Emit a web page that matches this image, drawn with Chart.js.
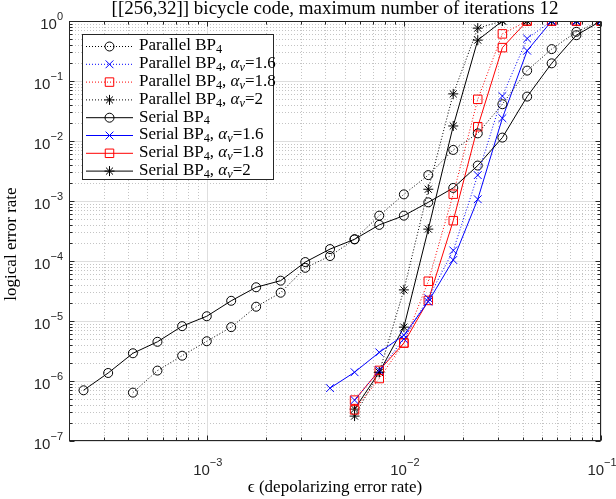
<!DOCTYPE html>
<html lang="en">
<head>
<meta charset="UTF-8" />
<title>[[256,32]] bicycle code</title>
<script src="https://cdn.jsdelivr.net/npm/chart.js@4"></script>
<style>
  body { margin: 0; background: #fff; }
  #wrap { width: 616px; height: 499px; position: relative; }
</style>
</head>
<body>
<div id="wrap"><canvas id="chart"></canvas></div>
<script>
// x values: depolarizing error rate
const eps = [2.37e-4, 3.16e-4, 4.22e-4, 5.62e-4, 7.50e-4, 1.00e-3, 1.33e-3, 1.78e-3, 2.37e-3, 3.16e-3, 4.22e-3,
             5.62e-3, 7.50e-3, 1.00e-2, 1.33e-2, 1.78e-2, 2.37e-2, 3.16e-2, 4.22e-2, 5.62e-2, 7.50e-2, 1.00e-1];

// logical error rates (null = not simulated)
const parallelBP4 = [null, null, 6.4e-7, 1.49e-6, 2.64e-6, 4.6e-6, 7.9e-6, 1.73e-5, 2.96e-5, 7.7e-5, 1.21e-4,
                     2.3e-4, 5.7e-4, 1.29e-3, 2.7e-3, 7.1e-3, 1.34e-2, 4.1e-2, 0.149, 0.34, 0.66, 1];
const parallelA16 = [null, null, null, null, null, null, null, null, null, null, null,
                     4.8e-7, 1.5e-6, 5.0e-6, 2.4e-5, 1.5e-4, 2.7e-3, 5.6e-2, 0.51, 1, 1, 1];
const parallelA18 = [null, null, null, null, null, null, null, null, null, null, null,
                     3.3e-7, 1.1e-6, 4.3e-6, 4.6e-5, 1.3e-3, 4.95e-2, 0.61, 1, 1, 1, 1];
const parallelA2  = [null, null, null, null, null, null, null, null, null, null, null,
                     2.6e-7, 1.4e-6, 3.3e-5, 1.57e-3, 6.1e-2, 0.76, 1, 1, 1, 1, 1];
const serialBP4   = [7.0e-7, 1.36e-6, 2.9e-6, 4.5e-6, 8.2e-6, 1.2e-5, 2.17e-5, 3.65e-5, 4.7e-5, 9.6e-5, 1.58e-4,
                     2.3e-4, 4.0e-4, 5.7e-4, 9.5e-4, 1.65e-3, 3.9e-3, 1.14e-2, 5.5e-2, 0.197, 0.58, 1];
const serialA16   = [null, null, null, null, null, null, null, null, null, null, 7.6e-7,
                     1.4e-6, 3.0e-6, 5.8e-6, 2.1e-5, 1.04e-4, 1.07e-3, 2.4e-2, 0.32, 1, 1, 1];
const serialA18   = [null, null, null, null, null, null, null, null, null, null, null,
                     4.8e-7, 1.5e-6, 4.3e-6, 2.2e-5, 4.7e-4, 1.73e-2, 0.36, 1, 1, 1, 1];
const serialA2    = [null, null, null, null, null, null, null, null, null, null, null,
                     3.4e-7, 1.4e-6, 7.9e-6, 3.4e-4, 1.78e-2, 0.48, 1, 1, 1, 1, 1];

// legend text pieces: [text, italic, subscript]
const legendNames = [
  [['Parallel BP'], ['4', 0, 1]],
  [['Parallel BP'], ['4', 0, 1], [', '], ['\u03b1', 1], ['v', 1, 1], ['=1.6']],
  [['Parallel BP'], ['4', 0, 1], [', '], ['\u03b1', 1], ['v', 1, 1], ['=1.8']],
  [['Parallel BP'], ['4', 0, 1], [', '], ['\u03b1', 1], ['v', 1, 1], ['=2']],
  [['Serial BP'], ['4', 0, 1]],
  [['Serial BP'], ['4', 0, 1], [', '], ['\u03b1', 1], ['v', 1, 1], ['=1.6']],
  [['Serial BP'], ['4', 0, 1], [', '], ['\u03b1', 1], ['v', 1, 1], ['=1.8']],
  [['Serial BP'], ['4', 0, 1], [', '], ['\u03b1', 1], ['v', 1, 1], ['=2']]
];

const xMin = 2e-4, xMax = 1e-1, yMin = 1e-7, yMax = 1;
const axisColor = '#262626';
const serif = '"Liberation Serif", "Times New Roman", serif';
const sans = '"Liberation Sans", Arial, sans-serif';

function series(ys, color, style, radius, dotted) {
  const pts = [];
  ys.forEach((y, i) => { if (y !== null) pts.push({ x: eps[i], y: y }); });
  return {
    data: pts,
    borderColor: color,
    borderWidth: 1,
    borderDash: dotted ? [1, 2] : [],
    pointStyle: style,
    pointRadius: radius,
    pointBorderColor: color,
    pointBackgroundColor: 'rgba(0,0,0,0)',
    pointBorderWidth: 1,
    tension: 0,
    fill: false
  };
}

const datasets = [
  series(parallelBP4, '#000000', 'circle', 4.5, true),
  series(parallelA16, '#0000ff', 'crossRot', 5.5, true),
  series(parallelA18, '#ff0000', 'rect', 6, true),
  series(parallelA2,  '#000000', 'star', 5, true),
  series(serialBP4,   '#000000', 'circle', 4.5, false),
  series(serialA16,   '#0000ff', 'crossRot', 5.5, false),
  series(serialA18,   '#ff0000', 'rect', 6, false),
  series(serialA2,    '#000000', 'star', 5, false)
];

function logTicks(min, max) {
  const major = [], minor = [];
  for (let e = Math.floor(Math.log10(min)); e <= Math.ceil(Math.log10(max)); e++) {
    for (let m = 1; m <= 9; m++) {
      const v = m * Math.pow(10, e);
      if (v < min * 0.999 || v > max * 1.001) continue;
      (m === 1 ? major : minor).push(v);
    }
  }
  return { major, minor };
}

function drawPow(ctx, exp, x, y, align) {
  const base = '10', sup = exp < 0 ? '\u2212' + (-exp) : String(exp);
  ctx.font = '15px ' + sans;
  const bw = ctx.measureText(base).width;
  ctx.font = '11px ' + sans;
  const sw = ctx.measureText(sup).width;
  let left = align === 'right' ? x - bw - sw : x - (bw + sw) / 2;
  ctx.textAlign = 'left';
  ctx.textBaseline = 'middle';
  ctx.fillStyle = axisColor;
  ctx.font = '15px ' + sans;
  ctx.fillText(base, left, y + 4);
  ctx.font = '11px ' + sans;
  ctx.fillText(sup, left + bw, y - 4);
}

function drawRich(ctx, parts, x, y, size) {
  let cx = x;
  parts.forEach(p => {
    const [t, it, sub] = p;
    const fs = sub ? size * 0.72 : size;
    ctx.font = (it ? 'italic ' : '') + fs + 'px ' + serif;
    ctx.fillText(t, cx, sub ? y + 4 : y);
    cx += ctx.measureText(t).width;
  });
}

const gridPlugin = {
  id: 'matlabGrid',
  beforeDatasetsDraw(chart) {
    const { ctx, chartArea: a, scales: { x, y } } = chart;
    const xt = logTicks(xMin, xMax), yt = logTicks(yMin, yMax);
    ctx.save();
    ctx.lineWidth = 1;
    // minor grid, dotted
    ctx.strokeStyle = '#c4c4c4';
    ctx.setLineDash([1, 2]);
    ctx.beginPath();
    xt.minor.forEach(v => { const p = Math.round(x.getPixelForValue(v)) + 0.5; ctx.moveTo(p, a.top); ctx.lineTo(p, a.bottom); });
    yt.minor.forEach(v => { const p = Math.round(y.getPixelForValue(v)) + 0.5; ctx.moveTo(a.left, p); ctx.lineTo(a.right, p); });
    ctx.stroke();
    // major grid, solid
    ctx.setLineDash([]);
    ctx.strokeStyle = '#dedede';
    ctx.beginPath();
    xt.major.forEach(v => { const p = Math.round(x.getPixelForValue(v)) + 0.5; ctx.moveTo(p, a.top); ctx.lineTo(p, a.bottom); });
    yt.major.forEach(v => { const p = Math.round(y.getPixelForValue(v)) + 0.5; ctx.moveTo(a.left, p); ctx.lineTo(a.right, p); });
    ctx.stroke();
    ctx.restore();
  },
  afterDatasetsDraw(chart) {
    const { ctx, chartArea: a, scales: { x, y } } = chart;
    const xt = logTicks(xMin, xMax), yt = logTicks(yMin, yMax);
    ctx.save();
    ctx.strokeStyle = axisColor;
    ctx.lineWidth = 1;
    ctx.beginPath();
    const L = Math.round(a.left) + 0.5, R = Math.round(a.right) - 0.5;
    const T = Math.round(a.top) + 0.5, B = Math.round(a.bottom) - 0.5;
    // tick marks inside the box on all four sides
    const tick = (vals, len) => {
      vals.forEach(v => {
        const p = Math.round(x.getPixelForValue(v)) + 0.5;
        ctx.moveTo(p, B); ctx.lineTo(p, B - len);
        ctx.moveTo(p, T); ctx.lineTo(p, T + len);
      });
    };
    const tickY = (vals, len) => {
      vals.forEach(v => {
        const p = Math.round(y.getPixelForValue(v)) + 0.5;
        ctx.moveTo(L, p); ctx.lineTo(L + len, p);
        ctx.moveTo(R, p); ctx.lineTo(R - len, p);
      });
    };
    tick(xt.major, 5); tick(xt.minor, 3);
    tickY(yt.major, 5); tickY(yt.minor, 3);
    ctx.stroke();
    ctx.strokeRect(L, T, R - L, B - T);

    // tick labels
    xt.major.forEach(v => drawPow(ctx, Math.round(Math.log10(v)), x.getPixelForValue(v) + 1, 467, 'center'));
    yt.major.forEach(v => drawPow(ctx, Math.round(Math.log10(v)), 63, y.getPixelForValue(v), 'right'));

    // title and axis labels
    ctx.fillStyle = '#000';
    ctx.textAlign = 'center';
    ctx.textBaseline = 'middle';
    ctx.font = '19px ' + serif;
    ctx.fillText('[[256,32]] bicycle code, maximum number of iterations 12', (a.left + a.right) / 2, 9);
    ctx.font = '17px ' + serif;
    ctx.fillText('\u03f5 (depolarizing error rate)', (a.left + a.right) / 2, 488);
    ctx.save();
    ctx.translate(12, 244);
    ctx.rotate(-Math.PI / 2);
    ctx.fillText('logical error rate', 0, 0);
    ctx.restore();

    // legend
    const bx = 82, by = 34, bw = 191, bh = 145;
    ctx.fillStyle = '#fff';
    ctx.fillRect(bx, by, bw, bh);
    ctx.strokeStyle = axisColor;
    ctx.strokeRect(bx + 0.5, by + 0.5, bw, bh);
    chart.data.datasets.forEach((ds, i) => {
      const ry = 46 + i * 17.8;
      ctx.save();
      ctx.strokeStyle = ds.borderColor;
      ctx.fillStyle = 'rgba(0,0,0,0)';
      ctx.lineWidth = 1;
      ctx.setLineDash(ds.borderDash);
      ctx.beginPath();
      ctx.moveTo(86, ry + 0.5); ctx.lineTo(133, ry + 0.5);
      ctx.stroke();
      ctx.setLineDash([]);
      Chart.helpers.drawPoint(ctx, { pointStyle: ds.pointStyle, rotation: 0, radius: ds.pointRadius, borderWidth: 1 }, 109.5, ry + 0.5);
      ctx.restore();
      ctx.fillStyle = '#000';
      ctx.textAlign = 'left';
      ctx.textBaseline = 'middle';
      drawRich(ctx, legendNames[i], 139, ry, 17);
    });
    ctx.restore();
  }
};

new Chart(document.getElementById('chart'), {
  type: 'line',
  data: { datasets: datasets },
  options: {
    responsive: true,
    maintainAspectRatio: false,
    animation: false,
    layout: { padding: { left: 69, right: 15, top: 21, bottom: 58 } },
    plugins: { legend: { display: false }, tooltip: { enabled: false }, title: { display: false } },
    scales: {
      x: { type: 'logarithmic', min: xMin, max: xMax, display: false },
      y: { type: 'logarithmic', min: yMin, max: yMax, display: false }
    }
  },
  plugins: [gridPlugin]
});
</script>
</body>
</html>
